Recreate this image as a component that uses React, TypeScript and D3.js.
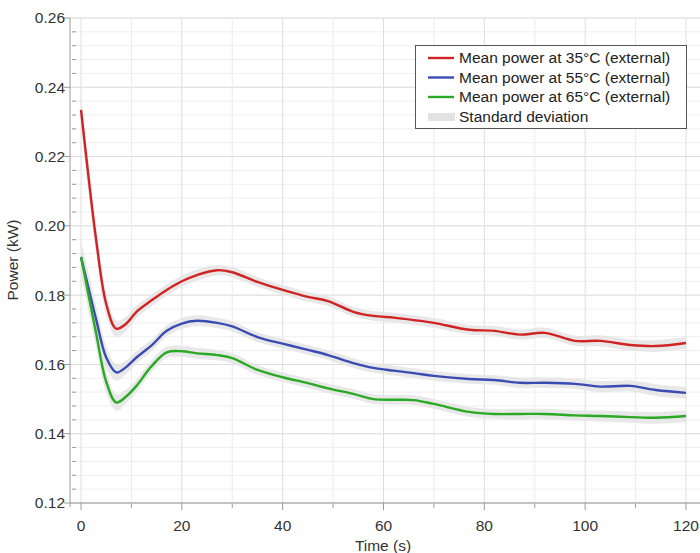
import React, { useRef, useEffect } from 'react';
import * as d3 from 'd3';

// time samples (s)
const times = [0, 1.5, 3, 5, 7, 9, 11, 14, 17, 20, 23, 27, 30, 35, 40, 45, 49, 54, 58, 62, 66, 70, 77, 82, 87, 92, 98, 103, 109, 114, 120];

// mean power (kW) per external temperature
const power35 = [0.2335, 0.214, 0.196, 0.1775, 0.1703, 0.1718, 0.1752, 0.1785, 0.1815, 0.184, 0.1858, 0.1872, 0.1866, 0.1838, 0.1815, 0.1795, 0.1783, 0.1752, 0.174, 0.1735, 0.1728, 0.172, 0.17, 0.1697, 0.1686, 0.1691, 0.1668, 0.1668, 0.1656, 0.1653, 0.1662];
const power55 = [0.191, 0.182, 0.173, 0.162, 0.1577, 0.1593, 0.162, 0.1655, 0.1697, 0.1718, 0.1726, 0.172, 0.171, 0.1679, 0.166, 0.1642, 0.1627, 0.1604, 0.159, 0.1582, 0.1575, 0.1567, 0.1558, 0.1555, 0.1547, 0.1547, 0.1544, 0.1536, 0.1538, 0.1526, 0.1518];
const power65 = [0.191, 0.18, 0.169, 0.155, 0.149, 0.1508, 0.1538, 0.1595, 0.1635, 0.1638, 0.1632, 0.1627, 0.1618, 0.1584, 0.1563, 0.1546, 0.1531, 0.1515, 0.15, 0.1498, 0.1497, 0.1486, 0.1463, 0.1457, 0.1457, 0.1457, 0.1453, 0.1451, 0.1448, 0.1446, 0.1451];

// standard deviation (kW), shared shape for the three series
const stdDev = [0.0045, 0.0045, 0.004, 0.0032, 0.0024, 0.002, 0.0018, 0.0017, 0.0016, 0.0016, 0.0016, 0.0015, 0.0015, 0.0014, 0.0014, 0.0014, 0.0014, 0.0014, 0.0014, 0.0014, 0.0014, 0.0014, 0.0014, 0.0014, 0.0015, 0.0015, 0.0015, 0.0016, 0.0016, 0.0017, 0.0017];

const seriesNames = ['Mean power at 35°C (external)', 'Mean power at 55°C (external)', 'Mean power at 65°C (external)'];
const seriesColors = ['#d02424', '#3a4bb2', '#2aaa24'];

const xMajor = [0, 20, 40, 60, 80, 100, 120];
const xMinor = [10, 30, 50, 70, 90, 110];
const yMajor = [0.12, 0.14, 0.16, 0.18, 0.2, 0.22, 0.24, 0.26];

const FONT = '"Liberation Sans", Arial, Helvetica, sans-serif';
const FS = 15.5;

const PowerChart = () => {
  const svgRef = useRef<SVGSVGElement>(null);

  useEffect(() => {
    const svg = d3.select(svgRef.current);
    svg.selectAll('*').remove();

    const x = d3.scaleLinear().domain([0, 120]).range([81, 686]);
    const y = d3.scaleLinear().domain([0.12, 0.26]).range([503, 18]);
    const left = 70;
    const right = 700;

    // minor y values every 0.004
    const yMinor = d3.range(0, 36).map(i => 0.12 + i * 0.004).filter(v => v < 0.2601);

    // grid
    const grid = svg.append('g');
    grid.selectAll('line.hmin')
      .data(yMinor)
      .join('line')
      .attr('x1', left).attr('x2', right)
      .attr('y1', d => y(d)).attr('y2', d => y(d))
      .attr('stroke', '#efefef');
    grid.selectAll('line.hmaj')
      .data(yMajor)
      .join('line')
      .attr('x1', left).attr('x2', right)
      .attr('y1', d => y(d)).attr('y2', d => y(d))
      .attr('stroke', '#dedede');
    grid.selectAll('line.vmin')
      .data(xMinor)
      .join('line')
      .attr('x1', d => x(d)).attr('x2', d => x(d))
      .attr('y1', y(0.12)).attr('y2', y(0.26))
      .attr('stroke', '#ebebeb');
    grid.selectAll('line.vmaj')
      .data(xMajor)
      .join('line')
      .attr('x1', d => x(d)).attr('x2', d => x(d))
      .attr('y1', y(0.12)).attr('y2', y(0.26))
      .attr('stroke', '#dedede');

    const allSeries = [power35, power55, power65];

    // standard deviation bands
    const band = d3.area<number>()
      .x((d, i) => x(times[i]))
      .y0((d, i) => y(d - stdDev[i]))
      .y1((d, i) => y(d + stdDev[i]))
      .curve(d3.curveCatmullRom.alpha(0.5));

    allSeries.forEach(s => {
      svg.append('path')
        .datum(s)
        .attr('fill', '#e4e4e4')
        .attr('fill-opacity', 0.85)
        .attr('d', band);
    });

    // mean lines
    const line = d3.line<number>()
      .x((d, i) => x(times[i]))
      .y(d => y(d))
      .curve(d3.curveCatmullRom.alpha(0.5));

    allSeries.forEach((s, k) => {
      svg.append('path')
        .datum(s)
        .attr('fill', 'none')
        .attr('stroke', seriesColors[k])
        .attr('stroke-width', 2.4)
        .attr('stroke-linejoin', 'round')
        .attr('d', line);
    });

    // axes
    const axes = svg.append('g').attr('stroke', '#9a9a9a');
    axes.append('line')
      .attr('x1', left).attr('x2', left)
      .attr('y1', y(0.26)).attr('y2', y(0.12) + 4);
    axes.append('line')
      .attr('x1', left).attr('x2', right)
      .attr('y1', y(0.12)).attr('y2', y(0.12));
    axes.selectAll('line.ytick')
      .data(yMajor)
      .join('line')
      .attr('x1', left - 6).attr('x2', left)
      .attr('y1', d => y(d)).attr('y2', d => y(d));
    axes.selectAll('line.yminor')
      .data(yMinor.filter(v => !yMajor.some(m => Math.abs(m - v) < 1e-6)))
      .join('line')
      .attr('x1', left + 2).attr('x2', left + 6)
      .attr('y1', d => y(d)).attr('y2', d => y(d));
    axes.selectAll('line.xtick')
      .data(xMajor)
      .join('line')
      .attr('x1', d => x(d)).attr('x2', d => x(d))
      .attr('y1', y(0.12)).attr('y2', y(0.12) + 7);
    axes.selectAll('line.xminor')
      .data(xMinor)
      .join('line')
      .attr('x1', d => x(d)).attr('x2', d => x(d))
      .attr('y1', y(0.12) + 1).attr('y2', y(0.12) + 5);

    // tick labels
    svg.append('g')
      .selectAll('text')
      .data(yMajor)
      .join('text')
      .attr('x', left - 5)
      .attr('y', d => y(d))
      .attr('dy', '0.35em')
      .attr('text-anchor', 'end')
      .attr('font-family', FONT)
      .attr('font-size', FS)
      .attr('fill', '#333')
      .text(d => d.toFixed(2));

    svg.append('g')
      .selectAll('text')
      .data(xMajor)
      .join('text')
      .attr('x', d => x(d))
      .attr('y', 531)
      .attr('text-anchor', 'middle')
      .attr('font-family', FONT)
      .attr('font-size', FS)
      .attr('fill', '#333')
      .text(d => d);

    // axis titles
    svg.append('text')
      .attr('x', 383)
      .attr('y', 551)
      .attr('text-anchor', 'middle')
      .attr('font-family', FONT)
      .attr('font-size', FS)
      .attr('fill', '#333')
      .text('Time (s)');

    svg.append('text')
      .attr('transform', 'translate(18,260) rotate(-90)')
      .attr('text-anchor', 'middle')
      .attr('font-family', FONT)
      .attr('font-size', FS)
      .attr('fill', '#333')
      .text('Power (kW)');

    // legend
    const legend = svg.append('g');
    legend.append('rect')
      .attr('x', 415.5).attr('y', 45.5)
      .attr('width', 271).attr('height', 83)
      .attr('fill', '#fff')
      .attr('stroke', '#555');
    seriesNames.forEach((name, k) => {
      const ly = 58 + k * 19.5;
      legend.append('line')
        .attr('x1', 428).attr('x2', 454)
        .attr('y1', ly).attr('y2', ly)
        .attr('stroke', seriesColors[k])
        .attr('stroke-width', 2.4);
      legend.append('text')
        .attr('x', 459).attr('y', ly)
        .attr('dy', '0.35em')
        .attr('font-family', FONT)
        .attr('font-size', FS)
        .attr('fill', '#222')
        .text(name);
    });
    legend.append('rect')
      .attr('x', 428).attr('y', 113)
      .attr('width', 27).attr('height', 8)
      .attr('fill', '#e2e2e2');
    legend.append('text')
      .attr('x', 459).attr('y', 116.5)
      .attr('dy', '0.35em')
      .attr('font-family', FONT)
      .attr('font-size', FS)
      .attr('fill', '#222')
      .text('Standard deviation');
  }, []);

  return (
    <svg
      ref={svgRef}
      width={700}
      height={553}
      style={{ position: 'absolute', left: 0, top: 0, display: 'block', background: '#fff' }}
    />
  );
};

export default function App() {
  return <PowerChart />;
}
